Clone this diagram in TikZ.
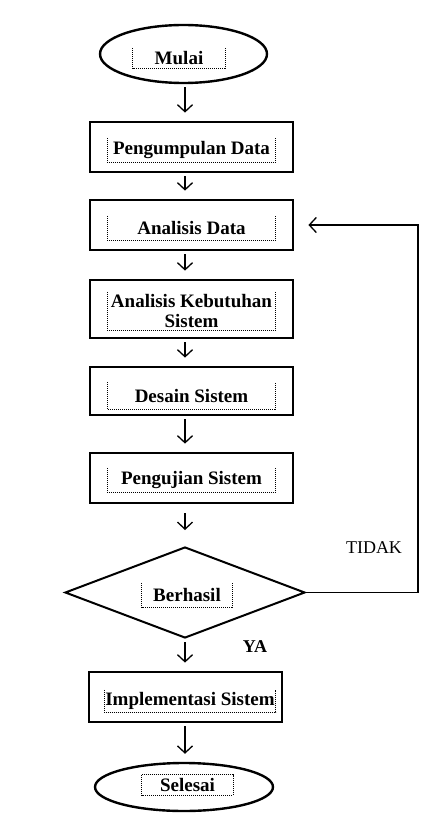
\documentclass[tikz,border=0pt]{standalone}
\usepackage{fontspec}
\setmainfont{Liberation Serif}
\usetikzlibrary{shapes.geometric,arrows.meta}

\tikzset{
  procbox/.style={draw, line width=2.8pt, minimum width=203pt, minimum height=50pt, inner sep=0pt},
  termbox/.style={ellipse, draw, line width=2.4pt, inner sep=0pt},
  decbox/.style={diamond, draw, line width=2pt, minimum width=240pt, minimum height=91pt, inner sep=0pt},
  txtframe/.style={font=\bfseries\fontsize{19}{20}\selectfont, minimum width=168pt, minimum height=24pt, inner sep=1pt, align=center},
  flow/.style={-{Straight Barb[length=7pt,width=15pt]}, line width=1.3pt, shorten <=3pt, shorten >=8pt},
  remark/.style={font=\fontsize{18}{20}\selectfont, inner sep=0pt},
}

\begin{document}
\begin{tikzpicture}[x=1pt,y=-1pt]
    \useasboundingbox (0,0) rectangle (436,813);
    % Column of the arrows
    \coordinate (col) at (185,0);
    \coordinate (loopR) at (418,0);
    % Start and end
    \node[termbox, minimum width=167pt, minimum height=58pt] (mulai) at (183.5,54) {};
    \node[termbox, minimum width=178pt, minimum height=48pt] (selesai) at (184,787) {};
    % Process steps
    \node[procbox] (kumpul) at (191.5,147) {};
    \node[procbox] (analisis) at (191.5,225) {};
    \node[procbox, minimum height=58pt] (butuh) at (191.5,309) {};
    \node[procbox, minimum height=48pt] (desain) at (191.5,391) {};
    \node[procbox] (uji) at (191.5,478) {};
    \node[decbox] (berhasil) at (185,592.5) {};
    \node[procbox, minimum width=193pt] (implementasi) at (185.5,697) {};
    % Texts in their frames
    \node[txtframe, minimum width=92pt, minimum height=20pt] (mulaiT) at (179,58) {Mulai};
    \node[txtframe] (kumpulT) at ([yshift=-3pt]kumpul.center) {Pengumpulan Data};
    \node[txtframe] (analisisT) at ([yshift=-3pt]analisis.center) {Analisis Data};
    \node[txtframe, minimum height=38pt] (butuhT) at ([yshift=-2pt]butuh.center) {Analisis Kebutuhan\\Sistem};
    \node[txtframe, minimum height=27pt] (desainT) at ([yshift=-5pt]desain.center) {Desain Sistem};
    \node[txtframe] (ujiT) at ([yshift=-2pt]uji.center) {Pengujian Sistem};
    \node[txtframe, minimum width=90pt] (berhasilT) at (187,595) {Berhasil};
    \node[txtframe, minimum width=167pt, minimum height=22pt] (implementasiT) at (190,701) {Implementasi Sistem};
    \node[txtframe, minimum width=91pt, minimum height=20pt] (selesaiT) at (187.5,785) {Selesai};
    % Dotted frames round the texts
    \foreach \t in {mulaiT,kumpulT,analisisT,butuhT,desainT,ujiT,berhasilT,implementasiT}
    \draw[line width=1pt, dash pattern=on 1pt off 1pt] (\t.north west) -- (\t.south west) -- (\t.south east) -- (\t.north east);
    \draw[line width=1pt, dash pattern=on 1pt off 1pt] (selesaiT.north west) rectangle (selesaiT.south east);
    % Arrows down the column
    \draw[flow] (mulai.south -| col) -- (kumpul.north -| col);
    \draw[flow] (kumpul.south -| col) -- (analisis.north -| col);
    \draw[flow] (analisis.south -| col) -- (butuh.north -| col);
    \draw[flow] (butuh.south -| col) -- (desain.north -| col);
    \draw[flow] (desain.south -| col) -- (uji.north -| col);
    \draw[flow, shorten <=9pt, shorten >=16pt] (uji.south -| col) -- (berhasil.north);
    \draw[flow] (berhasil.south) -- (implementasi.north -| col);
    \draw[flow] (implementasi.south -| col) -- (selesai.north -| col);
    % Loop back when it fails
    \draw[flow, shorten <=0pt, shorten >=14pt] (berhasil.east) -- (berhasil.east -| loopR) -- (loopR |- analisis.east) -- (analisis.east);
    \node[remark] (tidak) at (374,548) {TIDAK};
    \node[remark, font=\bfseries\fontsize{18}{20}\selectfont] (ya) at (255,647) {YA};
\end{tikzpicture}
\end{document}
